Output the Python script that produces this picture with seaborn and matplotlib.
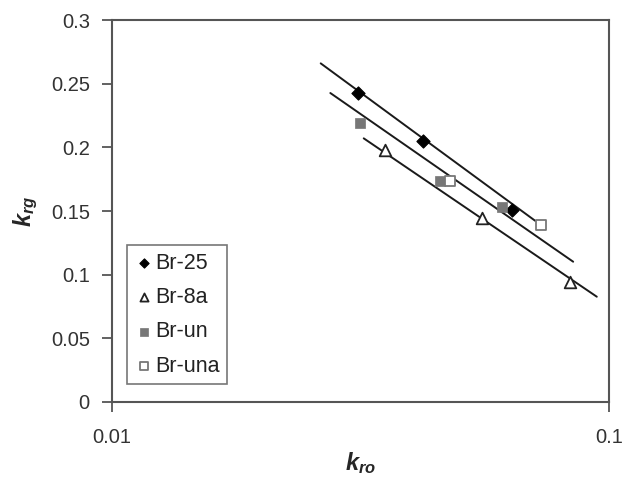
import matplotlib
matplotlib.use('Agg')
import matplotlib.pyplot as plt
import pandas as pd
import seaborn as sns
from matplotlib.ticker import FuncFormatter, FixedLocator, NullLocator

# data
br25_kro = [0.0313, 0.0422, 0.0638]
br25_krg = [0.2427, 0.205, 0.151]
br8a_kro = [0.0354, 0.0555, 0.0835]
br8a_krg = [0.198, 0.1443, 0.0945]
brun_kro = [0.0316, 0.0457, 0.061]
brun_krg = [0.2194, 0.1736, 0.1534]
bruna_kro = [0.0479, 0.0731]
bruna_krg = [0.1736, 0.139]

# trend lines (end points)
trend_top_x = [0.0263, 0.071]
trend_top_y = [0.266, 0.1424]
trend_mid_x = [0.0275, 0.0847]
trend_mid_y = [0.2427, 0.1102]
trend_low_x = [0.0321, 0.0945]
trend_low_y = [0.2071, 0.0827]

sns.set_theme(style='ticks')
plt.rcParams['font.family'] = ['Liberation Sans', 'DejaVu Sans']
plt.rcParams['mathtext.fontset'] = 'custom'
plt.rcParams['mathtext.it'] = 'Liberation Sans:italic:bold'
plt.rcParams['mathtext.rm'] = 'Liberation Sans:bold'

fig = plt.figure(figsize=(6.27, 4.78), dpi=100)
ax = fig.add_axes([0.1786, 0.159, 0.7927, 0.799])

for tx, ty in [(trend_top_x, trend_top_y), (trend_mid_x, trend_mid_y), (trend_low_x, trend_low_y)]:
    sns.lineplot(x=tx, y=ty, ax=ax, color='#1a1a1a', linewidth=1.4, legend=False)

sns.scatterplot(x=br25_kro, y=br25_krg, ax=ax, marker='D', s=45, color='black',
                edgecolor='black', linewidth=0.8, label='Br-25', zorder=3)
sns.scatterplot(x=br8a_kro, y=br8a_krg, ax=ax, marker='^', s=70, facecolor='white',
                edgecolor='#222222', linewidth=1.3, label='Br-8a', zorder=3)
sns.scatterplot(x=brun_kro, y=brun_krg, ax=ax, marker='s', s=55, color='#777777',
                edgecolor='#777777', linewidth=0.5, label='Br-un', zorder=3)
sns.scatterplot(x=bruna_kro, y=bruna_krg, ax=ax, marker='s', s=55, facecolor='white',
                edgecolor='#777777', linewidth=1.3, label='Br-una', zorder=3)

ax.set_xscale('log')
ax.set_xlim(0.01, 0.1)
ax.set_ylim(0, 0.3)
ax.xaxis.set_major_locator(FixedLocator([0.01, 0.1]))
ax.xaxis.set_minor_locator(NullLocator())
ax.set_yticks([0, 0.05, 0.1, 0.15, 0.2, 0.25, 0.3])
fmt = FuncFormatter(lambda v, p: '{:g}'.format(v))
ax.xaxis.set_major_formatter(fmt)
ax.yaxis.set_major_formatter(fmt)

for s in ax.spines.values():
    s.set_color('#555555')
    s.set_linewidth(1.5)
ax.tick_params(axis='both', labelsize=14.5, colors='#555555', labelcolor='#333333',
               length=7, width=1.3, direction='out')
ax.tick_params(axis='y', pad=9)
ax.tick_params(axis='x', pad=12)

ax.set_xlabel(r'$k_{ro}$', fontsize=17, labelpad=2)
ax.set_ylabel(r'$k_{rg}$', fontsize=17, labelpad=8)

leg = ax.legend(loc='upper left', bbox_to_anchor=(0.03, 0.411), borderaxespad=0,
                fontsize=15.5, frameon=True, fancybox=False, handletextpad=0.05,
                labelspacing=0.62, borderpad=0.35, handlelength=0.9, markerscale=0.7)
leg.get_frame().set_edgecolor('#555555')
leg.get_frame().set_linewidth(1.2)
for t in leg.get_texts():
    t.set_color('#222222')

fig.savefig('out.png', dpi=100)
